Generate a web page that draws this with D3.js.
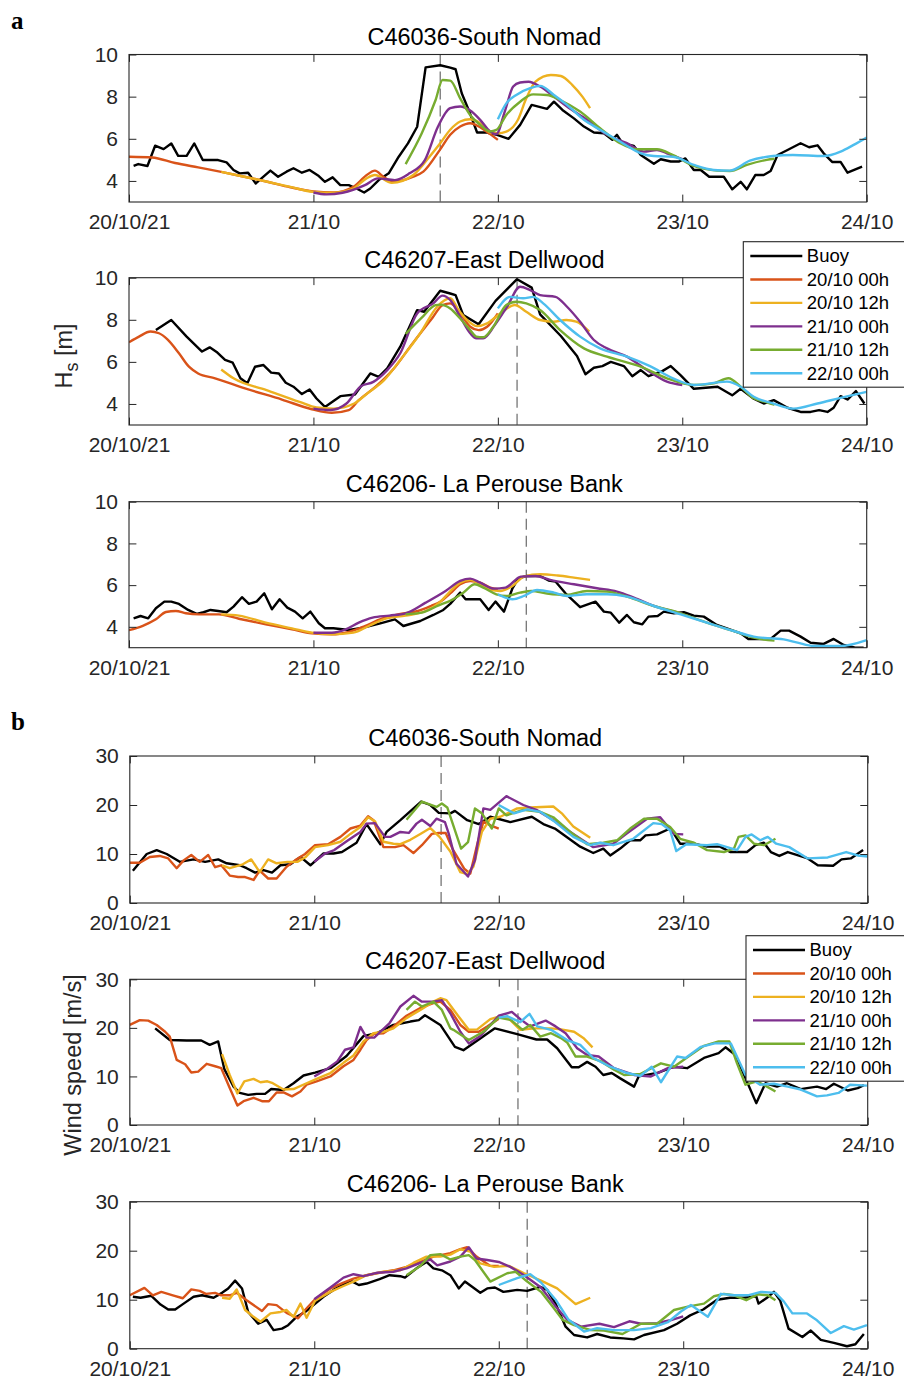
<!DOCTYPE html>
<html>
<head>
<meta charset="utf-8">
<script src="https://cdn.jsdelivr.net/npm/d3@7"></script>
<style>
  body { margin: 0; background: #fff; }
  svg { display: block; }
</style>
</head>
<body>
<svg id="fig" width="904" height="1381"></svg>
<script>
// ---- time axis (hours since 20/10/21 00:00 UTC) ----
const dayTicks = [0, 24, 48, 72, 96];
const dayLabels = ["20/10/21", "21/10", "22/10", "23/10", "24/10"];
const runNames = ["Buoy", "20/10 00h", "20/10 12h", "21/10 00h", "21/10 12h", "22/10 00h"];
const runColors = ["#000000", "#D95319", "#EDB120", "#7E2F8E", "#77AC30", "#4DBEEE"];
const stationNames = ["C46036-South Nomad", "C46207-East Dellwood", "C46206- La Perouse Bank"];
// time of the observed peak at each station (hours)
const peakHours = [40.5, 50.5, 51.7];
const hsTicks = [4, 6, 8, 10];
const wsTicks = [0, 10, 20, 30];

// ---- significant wave height [m], pairs of [hour, value] ----
const nomadHsBuoy = [[0.6,4.72],[1.2,4.8],[2.4,4.71],[3.4,5.67],[4.5,5.51],[5.5,5.78],[6.4,5.19],[7.5,5.19],[8.5,5.78],[9.6,4.99],[11.6,4.99],[12.7,4.88],[13.6,4.52],[14.4,4.36],[15.5,4.39],[16.5,3.88],[17.5,4.2],[18.4,4.49],[19.4,4.2],[20.5,4.44],[21.4,4.6],[22.5,4.39],[23.5,4.52],[24.7,4.23],[25.5,3.96],[26.5,4.17],[27.5,3.8],[28.6,3.8],[29.6,3.64],[30.6,3.45],[31.4,3.64],[32.5,4.04],[33.8,4.36],[35.1,5.15],[36.3,5.78],[37.5,6.57],[38.6,9.39],[40.5,9.49],[41.8,9.38],[42.5,9.3],[43.3,8.16],[44.2,7.37],[45.3,6.3],[46.6,6.3],[47.9,6.19],[49.4,6.0],[50.9,6.66],[52.4,7.61],[54.4,7.42],[55.3,7.76],[56.4,7.37],[57.9,6.97],[59.2,6.58],[60.5,6.3],[61.8,6.26],[62.9,5.95],[63.5,6.19],[64.2,5.79],[65.7,5.66],[66.6,5.23],[68.3,4.81],[69.2,5.03],[70.5,4.92],[71.6,4.92],[72.4,5.07],[73.5,4.52],[74.4,4.52],[75.5,4.2],[77.4,4.2],[78.5,3.6],[79.6,3.96],[80.4,3.6],[81.5,4.28],[82.6,4.28],[83.5,4.47],[84.4,5.23],[85.7,5.47],[87.4,5.79],[88.5,5.6],[89.6,5.69],[90.4,5.31],[91.5,4.9],[92.6,4.9],[93.5,4.39],[95.4,4.68]];
const nomadHs2000 = [[0,5.15],[3,5.11],[6,4.85],[9,4.64],[12,4.43],[15,4.2],[18,3.96],[21,3.7],[24,3.5],[26.6,3.45],[29.2,3.72],[30.9,4.27],[32,4.49],[33.1,4.2],[34.4,3.96],[37,4.2],[38.3,4.44],[40.5,5.5],[41.8,6.19],[43.1,6.58],[44.4,6.74],[45.7,6.55],[47,6.22],[48,5.95]];
const nomadHs2012 = [[12,4.43],[15,4.2],[18,3.96],[21,3.72],[24,3.48],[26.6,3.44],[29.2,3.64],[30.9,4.12],[32,4.28],[34.2,3.91],[37,4.28],[39.1,5.15],[40.5,5.79],[41.8,6.43],[43.1,6.82],[44.4,6.93],[45.7,6.74],[47,6.3],[48,6.26],[49.1,6.34],[50.6,6.89],[51.7,7.92],[52.9,8.71],[54.9,9.03],[56.2,8.98],[57.7,8.55],[59,8.0],[60,7.45]];
const nomadHs2100 = [[24,3.45],[25.7,3.36],[27.8,3.44],[30.7,3.8],[32.4,4.12],[34.6,4.04],[36.5,4.36],[38.5,4.99],[40.2,6.57],[41.8,7.45],[43.1,7.53],[44.4,7.34],[45.7,6.9],[47,6.35],[47.8,6.22],[48.9,7.29],[50,8.48],[50.9,8.67],[52,8.71],[53.5,8.48],[55.3,8.0],[57,7.53],[59.6,6.9],[62.2,6.19],[64.8,5.79],[67,5.39],[68.7,5.47],[70,5.31],[72,5.03]];
const nomadHs2112 = [[36,4.8],[38.1,6.26],[39.9,7.84],[40.8,8.79],[41.8,8.76],[43.1,7.92],[44.4,7.13],[45.7,6.66],[47,6.35],[47.8,6.42],[49.1,7.13],[50.9,7.76],[52.6,8.11],[54.4,8.08],[56.1,7.84],[58.7,7.29],[61.3,6.5],[63.9,5.79],[66.1,5.5],[68.7,5.5],[70.8,5.23],[73.5,4.71],[76.5,4.49],[78.2,4.47],[80.4,4.76],[83,5.0],[84,5.05]];
const nomadHs2200 = [[48,6.93],[49.1,7.68],[50.4,8.08],[52.2,8.4],[53.5,8.51],[55.3,8.08],[57,7.61],[59.2,6.9],[61.3,6.43],[63.9,5.87],[66.6,5.31],[68.3,5.18],[70.8,5.15],[73.5,4.76],[76.1,4.52],[78.2,4.49],[80.8,4.96],[83.8,5.18],[86.4,5.23],[90.4,5.18],[92.6,5.39],[94.3,5.71],[96,6.06]];

const dellwoodHsBuoy = [[3.5,7.51],[5.5,7.99],[7.5,7.2],[9.5,6.49],[10.5,6.69],[11.5,6.44],[12.5,6.09],[13.5,5.96],[14.5,5.22],[15.4,4.98],[16.4,5.77],[17.5,5.85],[18.5,5.49],[19.5,5.45],[20.4,5.01],[21.4,4.82],[22.5,4.47],[23.5,4.69],[24.4,4.26],[25.5,3.86],[27.5,4.37],[29.4,4.45],[31.4,5.45],[32.5,5.29],[33.6,5.69],[35.3,6.72],[37.5,8.46],[38.4,8.38],[40.5,9.38],[41.8,9.25],[42.5,9.17],[43.5,8.22],[45.5,7.79],[47.7,8.9],[50.5,9.93],[52.4,9.53],[53.5,8.26],[56.2,7.23],[58.3,6.28],[59.4,5.41],[60.5,5.72],[61.6,5.8],[62.7,6.0],[64.4,5.8],[65.5,5.32],[66.6,5.61],[67.6,5.32],[69.4,5.56],[70.5,5.8],[71.8,5.36],[73.5,4.72],[76.6,4.82],[78.5,4.41],[79.6,4.72],[81.3,4.25],[82.6,4.02],[83.9,4.18],[85.7,3.82],[87.4,3.62],[88.7,3.62],[89.8,3.71],[90.9,3.62],[91.7,3.82],[92.6,4.37],[93.5,4.21],[94.6,4.61],[95.7,4.02]];
const dellwoodHs2000 = [[0,6.93],[1.3,7.2],[2.8,7.44],[3.9,7.36],[5,7.07],[6.5,6.41],[7.8,5.77],[9,5.45],[11.2,5.22],[15.1,4.74],[19.9,4.21],[23.8,3.75],[26.4,3.58],[28.6,3.71],[29.9,4.18],[32.1,4.82],[34.3,5.61],[36.9,6.88],[39.5,8.1],[40.8,8.7],[41.8,8.78],[43.1,8.3],[44.4,7.67],[45.5,7.51],[46.6,7.67],[48,8.3]];
const dellwoodHs2012 = [[12,5.64],[13.6,5.22],[17.9,4.66],[22.2,4.1],[24.4,3.83],[26.6,3.78],[29.3,4.02],[31,4.5],[33.2,5.13],[35.3,6.09],[37.9,7.36],[40.1,8.62],[41.8,9.02],[42.9,8.46],[44,7.99],[45.3,7.7],[46.6,7.83],[48.3,8.3],[50.2,8.7],[51.7,8.38],[53.5,7.99],[55.2,7.91],[56.9,7.99],[58.2,7.91],[59.9,7.44]];
const dellwoodHs2100 = [[24,3.78],[26.2,3.71],[28.3,4.02],[30.1,4.82],[31.8,5.05],[33.6,5.61],[35.3,6.41],[37.5,8.3],[39.6,8.78],[40.8,9.15],[41.8,8.94],[43.1,8.14],[44.4,7.36],[45.2,7.12],[46.1,7.12],[47.6,7.75],[49.2,8.62],[50.9,9.57],[52.2,9.41],[53.5,9.17],[55.5,9.09],[57,8.62],[58.7,7.91],[60.5,7.04],[62.2,6.64],[64.8,6.25],[67.4,5.61],[70,5.06],[72,4.9]];
const dellwoodHs2112 = [[36,7.33],[38.1,8.1],[39.9,8.7],[40.5,8.72],[41.8,8.54],[43.1,8.06],[44.4,7.51],[45.2,7.2],[46.1,7.17],[47.4,7.67],[49.1,8.7],[50.4,8.86],[51.7,8.78],[53.5,8.46],[56.1,7.51],[59.2,6.64],[62.2,6.25],[66.6,5.77],[70,5.22],[73.5,4.9],[76.1,4.98],[78,5.22],[79.6,4.82],[81.3,4.27],[83.1,4.07],[84,3.96]];
const dellwoodHs2200 = [[48,8.54],[49.6,9.09],[51.3,9.02],[52.6,9.09],[53.9,8.78],[56.1,7.99],[58.7,7.2],[61.3,6.64],[64.8,6.25],[67.8,5.8],[70.8,5.22],[73.5,4.9],[77.8,5.06],[79.6,4.82],[81.3,4.34],[83.9,4.02],[86.5,3.78],[89.6,4.02],[92.6,4.29],[96,4.58]];

const perouseHsBuoy = [[0.6,4.41],[1.5,4.52],[2.5,4.41],[3.5,4.89],[4.6,5.21],[5.5,5.21],[6.5,5.1],[7.7,4.81],[8.8,4.62],[9.7,4.7],[10.6,4.81],[11.6,4.76],[12.7,4.7],[13.6,4.97],[14.7,5.42],[15.6,5.1],[16.6,5.21],[17.6,5.61],[18.6,4.84],[19.6,5.32],[20.6,4.92],[21.6,4.73],[22.6,4.41],[23.6,4.73],[24.7,4.17],[25.5,3.93],[26.6,3.93],[28.6,3.85],[30.5,3.96],[32.7,4.17],[34.6,4.36],[35.7,4.04],[37.9,4.28],[39.6,4.57],[40.9,4.81],[41.8,5.1],[43.1,5.64],[43.8,5.32],[45.7,5.32],[46.8,4.81],[47.7,5.21],[48.8,4.73],[49.9,5.85],[50.7,6.33],[51.8,6.44],[53.5,6.44],[54.6,6.22],[55.5,6.17],[56.8,5.61],[58.7,4.94],[60.7,5.21],[61.8,4.73],[62.7,4.68],[63.8,4.2],[64.8,4.57],[65.7,4.22],[66.8,4.12],[67.6,4.49],[68.8,4.52],[69.6,4.73],[70.9,4.65],[72.2,4.7],[73.5,4.54],[74.8,4.49],[76.5,4.09],[77.8,3.93],[79.6,3.69],[80.6,3.42],[83.5,3.42],[84.8,3.82],[85.9,3.82],[87.4,3.53],[88.7,3.24],[90.4,3.18],[91.7,3.42],[93,3.13],[94.5,3.0],[95.6,3.0]];
const perouseHs2000 = [[0,3.84],[1.8,4.05],[3.5,4.36],[4.8,4.71],[6.1,4.76],[7.4,4.65],[9.1,4.6],[11.7,4.6],[14.3,4.39],[17.8,4.12],[21.2,3.88],[23.8,3.69],[26.4,3.64],[28.6,3.76],[30.7,4.04],[32.9,4.39],[35,4.6],[37.6,4.76],[39.3,5.0],[40.5,5.2],[41.8,5.6],[43.1,6.04],[44.4,6.2],[45.7,6.12],[47,5.88],[48,5.8]];
const perouseHs2012 = [[12,4.6],[14.3,4.54],[17.8,4.2],[21.2,3.93],[23.8,3.72],[26.4,3.64],[29.2,3.72],[31.2,4.04],[33.4,4.39],[36,4.54],[38.6,4.76],[40.5,5.2],[41.8,5.7],[43.1,6.12],[44.4,6.25],[45.7,6.04],[47,5.77],[48.3,5.72],[49.9,5.96],[51.4,6.41],[53.5,6.52],[55.8,6.46],[57.9,6.36],[60,6.25]];
const perouseHs2100 = [[24,3.72],[26.4,3.72],[28.2,3.88],[29.9,4.2],[31.7,4.44],[33.9,4.54],[36,4.65],[38.6,5.16],[41.2,5.72],[43.1,6.2],[44.4,6.31],[45.7,6.12],[47.5,5.83],[49,5.88],[51,6.41],[52.9,6.44],[54.8,6.25],[57.9,6.04],[60.9,5.85],[63.5,5.69],[65.7,5.4],[68.3,5.0],[72,4.63]];
const perouseHs2112 = [[36,4.6],[38.1,4.68],[40.3,5.03],[41.8,5.25],[43.5,5.64],[45,6.04],[46.1,5.88],[47.8,5.56],[49.1,5.48],[50.9,5.64],[52.4,5.72],[54.4,5.6],[56.9,5.53],[59.6,5.72],[62.2,5.69],[64.8,5.45],[68.3,5.0],[71.8,4.65],[75.2,4.2],[78.7,3.8],[81.3,3.48],[84,3.34]];
const perouseHs2200 = [[48,5.56],[49.9,5.32],[51.4,5.48],[53.1,5.77],[55.3,5.64],[57,5.48],[59.6,5.56],[62.2,5.56],[64.8,5.45],[68.3,5.0],[71.8,4.6],[75.2,4.2],[78.7,3.8],[81.3,3.53],[83.9,3.44],[85.2,3.4],[87,3.24],[89.1,3.08],[92.6,3.08],[96,3.36]];

// ---- wind speed [m/s], pairs of [hour, value] ----
const nomadWsBuoy = [[0.4,6.6],[2.2,10.0],[3.5,10.8],[4.8,10.0],[6.5,8.4],[8.3,8.9],[9.8,8.4],[11.5,8.9],[12.6,8.1],[14.3,7.7],[15.2,7.1],[16.3,6.2],[17.4,6.7],[18.5,6.2],[19.6,7.7],[20.9,7.9],[22.2,9.4],[23.5,7.7],[25.2,10.1],[26.5,10.1],[27.6,10.4],[29.5,12.3],[30.8,16.1],[32.6,12.0],[33.4,14.5],[35.2,16.9],[37.9,20.7],[39.1,20.0],[40.2,18.4],[41.7,18.3],[42.3,18.8],[43.9,16.9],[45.4,16.1],[46.9,17.6],[49.5,16.5],[52.3,17.6],[53.8,16.1],[55.3,15.2],[58.6,11.5],[60.3,10.2],[61.6,11.1],[62.5,9.7],[63.8,11.1],[65.1,12.8],[66.4,12.8],[67.1,13.8],[68.6,14.0],[70.3,15.2],[70.8,14.1],[71.6,12.1],[73.4,12.1],[75.1,11.5],[76.8,11.5],[78.1,10.4],[80.3,10.4],[81.4,11.8],[82.5,12.3],[83.4,10.4],[84.5,9.6],[85.6,10.4],[88.2,9.1],[89.5,7.7],[91.5,7.6],[92.6,8.9],[93.8,9.1],[95.4,10.8]];
const nomadWs2000 = [[0,8.2],[1.3,8.2],[2.6,9.4],[3.9,9.6],[5,9.1],[6.1,7.1],[7,8.7],[8,9.8],[9.1,8.4],[10.2,9.8],[11.1,7.3],[11.9,7.7],[13,5.6],[14.1,5.3],[15,5.3],[16.1,4.7],[16.9,6.6],[18,5.0],[19.1,5.0],[20.4,7.4],[21.5,8.7],[22.8,10.0],[24.1,11.8],[25.8,12.0],[27.4,13.5],[28.7,15.2],[30,15.8],[31,17.7],[31.7,16.9],[33,11.4],[34.5,11.4],[35.6,11.8],[36.9,10.2],[38,11.8],[39.3,14.1],[40.2,14.3],[41.1,14.3],[42,11.0],[43.5,7.0],[44.3,6.0],[45.2,12.0],[46,16.6],[47,15.8],[48,15.2]];
const nomadWs2012 = [[12,7.7],[13,7.1],[14.7,7.9],[15.8,8.9],[16.9,6.3],[18,8.9],[19.1,8.1],[20.5,8.4],[21.8,8.4],[22.9,9.4],[24.1,11.4],[25.8,11.8],[27.4,12.5],[28.7,14.1],[30,15.5],[31,17.5],[31.9,16.7],[33,12.5],[34.3,12.1],[35.2,12.0],[36.5,12.9],[37.8,14.1],[39.1,15.3],[40.3,13.5],[41.7,10.5],[43,6.3],[43.9,5.9],[44.7,7.4],[45.8,14.5],[46.9,17.2],[48.2,17.6],[50.4,19.3],[52.1,19.5],[55.1,19.7],[56.2,18.3],[57.7,15.6],[59.9,13.3]];
const nomadWs2100 = [[24,8.4],[25.4,10.1],[26.6,10.8],[28.4,12.8],[30,14.5],[30.8,16.2],[31.9,16.3],[33.2,13.5],[33.9,13.5],[35.2,14.5],[36.3,14.3],[37.3,16.2],[38,17.0],[39.1,15.7],[39.9,17.2],[41,16.5],[41.5,14.1],[42.5,8.0],[44,5.4],[44.9,8.7],[46,19.3],[46.9,19.0],[49,21.8],[51.2,20.0],[52.9,19.0],[55.1,16.9],[57.7,14.1],[60.3,11.4],[62.9,12.1],[64.6,14.1],[67.3,17.2],[69,17.5],[70.8,14.1],[72,14.0]];
const nomadWs2112 = [[36,17.0],[38,20.7],[39.9,19.6],[40.6,20.3],[41.3,19.5],[43.1,11.1],[44,12.4],[44.9,19.3],[45.8,18.3],[47.1,15.2],[48,19.3],[49,17.9],[51.2,19.0],[53.4,18.6],[55.1,17.5],[57.3,14.5],[59.5,12.0],[61.6,12.3],[63.4,12.8],[65.1,15.2],[66.9,17.2],[68.6,17.2],[70.3,15.5],[71.6,13.1],[73.4,12.3],[75.1,10.8],[77.3,10.4],[78.6,11.1],[79.2,13.5],[80.1,13.8],[81.2,12.1],[82.5,11.8],[84,13.1]];
const nomadWs2200 = [[48,20.0],[50,18.3],[51.7,19.1],[53.4,18.6],[55.1,16.8],[57.7,13.5],[59.9,11.8],[61.2,12.3],[62.9,11.8],[65.5,13.1],[68.1,16.3],[69.2,16.1],[70.3,14.8],[71.1,10.6],[72.4,12.0],[75.1,11.8],[76.4,12.0],[79,10.8],[80.1,13.5],[80.9,14.0],[82,12.8],[83,13.5],[84.1,12.1],[85.8,11.4],[88.2,9.1],[90.8,9.3],[93.2,10.4],[94.7,9.7],[96,9.5]];

const dellwoodWsBuoy = [[3.3,19.9],[5.2,17.5],[7.4,17.4],[9.3,17.4],[10.4,16.5],[11.5,17.2],[12.3,11.5],[13.5,7.9],[14.3,6.6],[15.4,6.2],[16.5,6.4],[17.6,6.4],[18.4,7.4],[20,7.2],[21.3,8.6],[22.6,10.2],[24.1,10.8],[26.1,11.7],[28.2,14.2],[30.4,18.3],[32.1,18.9],[34.3,20.6],[36.5,21.3],[37.6,21.6],[38.4,22.6],[40.4,20.6],[42.3,16.1],[43.4,15.4],[47.5,19.9],[50.4,18.7],[52.9,17.6],[54.3,17.6],[55.6,15.8],[57.5,11.9],[58.4,11.9],[59.5,13.0],[60.6,12.0],[61.6,10.3],[62.7,10.7],[63.8,9.6],[65.6,7.9],[66.2,10.0],[68.6,10.7],[70.8,12.0],[72.5,11.7],[74.7,13.8],[76.6,14.8],[77.5,16.0],[78.8,14.4],[80.3,8.9],[81.5,4.5],[82.7,8.6],[84.2,7.9],[85.5,8.6],[87.3,7.4],[88.1,7.6],[89.4,7.9],[90.6,7.4],[91.6,8.5],[93.4,7.1],[94.7,7.6],[95.5,8.2]];
const dellwoodWs2000 = [[0,20.6],[1.3,21.6],[2.4,21.5],[3.5,20.6],[4.6,19.2],[5.2,18.2],[6.1,13.4],[7.2,12.5],[8,10.8],[8.9,11.0],[10,12.6],[11.1,12.1],[11.9,11.7],[13,7.6],[14,4.0],[14.8,4.9],[16.1,5.6],[17.2,4.9],[18.1,4.9],[19.1,6.7],[20,6.7],[21.1,5.9],[22.2,6.9],[23,8.3],[24.3,9.0],[26.1,10.0],[27.8,12.1],[29.1,13.4],[30,15.5],[30.8,17.5],[31.8,18.8],[33,18.9],[34.3,20.3],[36,22.5],[37.8,24.1],[39.5,25.1],[40.4,25.4],[41.7,23.7],[43,20.6],[44.1,19.2],[45.4,19.2],[46.5,20.3],[48,21.9]];
const dellwoodWs2012 = [[12,14.6],[13,10.3],[14,6.5],[14.9,9.0],[16.1,9.5],[17,8.8],[17.9,9.0],[18.6,8.6],[20,7.3],[21.3,7.4],[23,8.6],[24.3,9.5],[26.1,10.7],[27.8,12.8],[29.1,14.3],[30.4,17.2],[31.7,18.9],[33,19.2],[34.3,19.9],[36,22.0],[37.8,23.7],[39.5,25.4],[40.4,26.1],[41.2,25.7],[42.8,22.3],[44.1,19.6],[45.2,19.7],[46.9,21.8],[48,22.3],[49.1,22.2],[50.8,19.6],[52.6,19.9],[54.8,19.9],[56.1,19.7],[57.8,19.2],[59.1,17.8],[60.2,16.0]];
const dellwoodWs2100 = [[24,10.0],[25.6,11.5],[27,13.1],[28,15.5],[29.1,16.0],[30,20.2],[30.8,18.0],[31.8,18.0],[33.8,21.0],[35.2,24.4],[36.9,26.6],[38,25.4],[39.5,25.4],[40.6,25.7],[41.7,23.0],[43,19.2],[44.1,16.8],[45.6,18.3],[48,22.5],[49.7,23.3],[50.8,21.8],[52.1,20.3],[54.1,21.5],[55.4,20.3],[56.7,18.9],[58.2,15.8],[59.5,14.4],[61,14.1],[63,11.7],[65.6,10.3],[67.8,10.0],[70,11.7],[72,12.0]];
const dellwoodWs2112 = [[36,23.7],[37.1,25.4],[38,24.4],[39.5,25.4],[40.6,23.7],[41.7,19.9],[42.1,19.6],[44.1,17.5],[46,19.2],[48,22.1],[49.6,21.6],[51.1,19.6],[52.1,20.6],[53.4,18.2],[54.8,18.9],[56.1,17.9],[56.9,17.0],[58,14.1],[59.5,14.1],[61.3,13.1],[63,11.4],[64.3,10.3],[66.4,10.5],[69.1,12.7],[70.8,12.0],[72.5,13.9],[74.7,16.3],[76.6,17.2],[78,17.2],[79,12.7],[80.1,8.3],[81.6,9.0],[82.9,7.9],[84,6.9]];
const dellwoodWs2200 = [[48,22.1],[49.1,22.4],[50.8,21.2],[52,22.9],[53,20.3],[54.8,19.6],[56.9,17.5],[58.6,16.5],[60.3,13.8],[62.5,12.0],[64.7,10.7],[66.4,10.1],[67.9,12.0],[69.1,8.8],[71.2,14.1],[72.3,13.8],[74.3,16.1],[76.1,16.8],[78.2,16.8],[80.1,10.3],[82,8.3],[83.8,8.5],[85.6,7.9],[87.3,7.3],[89.4,5.9],[90.7,6.1],[92.2,6.6],[93.7,8.3],[95.9,8.1]];

const perouseWsBuoy = [[0.4,10.6],[1.4,10.4],[2.8,10.8],[4,9.0],[5,8.0],[5.9,8.0],[7,9.2],[8.3,10.6],[9.4,10.9],[10.9,10.4],[12,11.4],[12.8,12.3],[13.7,13.9],[14.6,12.3],[15.4,7.5],[16.7,5.1],[17.8,5.9],[18.7,3.8],[19.8,4.1],[20.6,4.8],[21.7,6.5],[22.8,7.5],[23.9,8.9],[25.2,10.6],[26.5,12.0],[28.7,13.9],[29.8,13.0],[30.8,13.3],[32.5,14.2],[33.8,15.0],[35.2,14.8],[35.8,14.5],[37.3,16.4],[38.6,17.7],[39.5,16.4],[40.6,16.0],[41.7,15.0],[42.8,12.3],[43.6,13.7],[45.6,11.4],[46.5,12.3],[47.5,12.5],[48.6,11.6],[50.4,12.0],[51.7,11.8],[53.4,12.6],[54.3,12.0],[55.4,9.2],[56.7,4.5],[57.8,2.8],[59.5,2.3],[60.8,3.0],[62.5,2.3],[64.2,2.1],[65.6,1.9],[66.9,2.8],[69.5,3.8],[71.2,5.1],[72.9,6.8],[74.6,8.0],[76.4,10.0],[78.1,10.4],[79.9,10.4],[81.5,10.7],[81.8,9.2],[82.9,10.4],[83.8,11.6],[84.6,9.9],[85.7,4.1],[87.5,2.4],[88.6,3.7],[89.9,1.8],[91.6,1.2],[93.3,0.5],[94.4,0.9],[95.5,3.0]];
const perouseWs2000 = [[0,10.9],[1.9,12.4],[3,10.9],[4.1,11.6],[5.6,10.9],[6.9,10.3],[8,12.1],[9.1,11.8],[9.9,11.2],[11.1,11.4],[11.9,10.9],[13,10.9],[13.9,11.4],[15.2,9.9],[17.2,7.7],[18,9.1],[19.1,8.9],[20.4,7.3],[21.9,6.2],[22.8,7.9],[24.1,10.1],[26.1,12.3],[27.8,13.5],[29.1,14.3],[30.8,15.0],[32.5,15.5],[34.3,16.0],[36,16.7],[37.8,17.7],[39.5,18.8],[41.7,19.5],[43,20.3],[43.9,20.7],[45.1,18.8],[46.9,16.9],[48,16.9]];
const perouseWs2012 = [[12,10.4],[13,10.2],[13.9,12.1],[15,7.9],[16.1,6.5],[17,5.5],[18.3,7.2],[19.6,7.5],[20.4,7.9],[21.3,6.5],[22.2,9.2],[23,6.3],[24.1,9.8],[26.1,11.6],[27.8,12.8],[29.1,13.7],[30.8,15.0],[33,15.7],[35.2,16.0],[36.9,17.5],[38.6,18.8],[40.4,18.8],[41.7,19.2],[43,20.3],[44.3,19.8],[45.6,17.4],[47.4,16.7],[49.3,16.9],[51.3,15.4],[53.5,13.9],[55.6,12.3],[58,9.1],[59.9,10.4]];
const perouseWs2100 = [[24,10.1],[26.1,12.5],[27.8,14.5],[29.1,15.2],[30.4,14.8],[32.2,15.5],[34.3,15.7],[36,16.4],[37.8,17.5],[39.1,18.2],[40,17.0],[41.7,17.8],[43,18.8],[44.1,20.7],[45.1,18.4],[46.5,18.1],[48,17.7],[49.5,16.7],[51.3,15.0],[53.5,12.5],[55.4,8.6],[56.9,5.9],[58.7,4.5],[61.1,5.1],[63,4.4],[65,5.6],[66.5,5.1],[68.6,5.2],[70.3,5.8],[72,6.6]];
const perouseWs2112 = [[36,15.0],[37.8,16.9],[39.1,19.1],[40.4,19.3],[41.7,18.2],[43,18.8],[44.1,19.1],[44.9,18.1],[46.9,13.7],[49.1,15.4],[50.2,15.7],[51.7,13.7],[53.5,11.6],[55.2,8.2],[56.3,5.9],[57.8,4.8],[60,3.8],[61.7,3.7],[64.1,3.0],[66.5,5.1],[68.6,5.1],[70.8,7.9],[72.6,8.6],[74.7,9.2],[76,10.7],[77.3,11.2],[78.6,10.9],[80.2,9.9],[81.7,11.1],[83,10.9],[84,9.9]];
const perouseWs2200 = [[48,13.0],[50.4,14.4],[52.1,15.2],[53.5,13.5],[55.4,10.0],[57.1,5.9],[59.1,3.5],[60.8,4.2],[63,3.8],[65.6,3.8],[67.8,4.2],[70,5.4],[71.7,7.6],[73,8.9],[75.2,6.5],[76.9,11.2],[78.6,10.9],[80.4,10.9],[82.1,11.6],[84,11.4],[85.1,9.6],[86.2,7.2],[88.1,7.2],[89.4,5.8],[91.2,3.2],[92.9,4.6],[94.2,3.9],[95.9,4.8]];

// ---- figure layout ----
const FONT = "'Liberation Sans', Arial, Helvetica, sans-serif";
const AXIS_COLOR = "#262626";
const TICK_LEN = 7.4;
const LINE_W = 2.4;

const hsSeries = [
  [nomadHsBuoy, nomadHs2000, nomadHs2012, nomadHs2100, nomadHs2112, nomadHs2200],
  [dellwoodHsBuoy, dellwoodHs2000, dellwoodHs2012, dellwoodHs2100, dellwoodHs2112, dellwoodHs2200],
  [perouseHsBuoy, perouseHs2000, perouseHs2012, perouseHs2100, perouseHs2112, perouseHs2200]
];
const wsSeries = [
  [nomadWsBuoy, nomadWs2000, nomadWs2012, nomadWs2100, nomadWs2112, nomadWs2200],
  [dellwoodWsBuoy, dellwoodWs2000, dellwoodWs2012, dellwoodWs2100, dellwoodWs2112, dellwoodWs2200],
  [perouseWsBuoy, perouseWs2000, perouseWs2012, perouseWs2100, perouseWs2112, perouseWs2200]
];

// axes rectangles [left, top, right, bottom]
const hsBoxes = [[129, 54.5, 866.7, 202], [129, 277.7, 866.7, 425], [129, 501.7, 866.7, 647.7]];
const wsBoxes = [[129.8, 756, 867.7, 903], [129.8, 979.3, 867.7, 1125], [129.8, 1201.7, 867.7, 1348.7]];

const panels = [];
stationNames.forEach((name, i) => panels.push({
  title: name, box: hsBoxes[i], yDomain: [3, 10], yTicks: hsTicks,
  series: hsSeries[i], peak: peakHours[i], smooth: true, legend: i === 1 ? [743.3, 241.7] : null
}));
stationNames.forEach((name, i) => panels.push({
  title: name, box: wsBoxes[i], yDomain: [0, 30], yTicks: wsTicks,
  series: wsSeries[i], peak: peakHours[i], smooth: false, legend: i === 1 ? [746, 935.7] : null
}));

const svg = d3.select("#fig");
svg.append("rect").attr("width", 904).attr("height", 1381).attr("fill", "#fff");

function styleAxis(g, withText) {
  g.attr("font-family", FONT).attr("font-size", 21);
  g.select(".domain").remove();
  g.selectAll(".tick line").attr("stroke", AXIS_COLOR).attr("stroke-width", 1);
  if (withText) g.selectAll(".tick text").attr("fill", AXIS_COLOR);
}

panels.forEach((p, pi) => {
  const [L, T, R, B] = p.box;
  const x = d3.scaleLinear().domain([0, 96]).range([L, R]);
  const y = d3.scaleLinear().domain(p.yDomain).range([B, T]);
  const g = svg.append("g");

  const clipId = "clip" + pi;
  g.append("clipPath").attr("id", clipId)
    .append("rect").attr("x", L).attr("y", T).attr("width", R - L).attr("height", B - T);

  // observed-peak marker
  g.append("line")
    .attr("x1", x(p.peak)).attr("x2", x(p.peak)).attr("y1", T).attr("y2", B)
    .attr("stroke", "#6a6a6a").attr("stroke-width", 1.2).attr("stroke-dasharray", "11,6");

  // buoy record and the five forecast runs
  const plot = g.append("g").attr("clip-path", `url(#${clipId})`);
  p.series.forEach((s, si) => {
    const gen = d3.line().x(d => x(d[0])).y(d => y(d[1]))
      .curve(p.smooth && si > 0 ? d3.curveMonotoneX : d3.curveLinear);
    plot.append("path").datum(s)
      .attr("d", gen).attr("fill", "none")
      .attr("stroke", runColors[si]).attr("stroke-width", LINE_W)
      .attr("stroke-linejoin", "round");
  });

  // axes: ticks on all four sides, pointing inward
  g.append("g").attr("transform", `translate(0,${B})`)
    .call(d3.axisBottom(x).tickValues(dayTicks).tickFormat((d, i) => dayLabels[i])
      .tickSizeInner(-TICK_LEN).tickSizeOuter(0).tickPadding(12))
    .call(a => styleAxis(a, true));
  g.append("g").attr("transform", `translate(0,${T})`)
    .call(d3.axisTop(x).tickValues(dayTicks).tickFormat(() => "")
      .tickSizeInner(-TICK_LEN).tickSizeOuter(0))
    .call(a => styleAxis(a, false));
  g.append("g").attr("transform", `translate(${L},0)`)
    .call(d3.axisLeft(y).tickValues(p.yTicks).tickFormat(d3.format("d"))
      .tickSizeInner(-TICK_LEN).tickSizeOuter(0).tickPadding(11))
    .call(a => styleAxis(a, true));
  g.append("g").attr("transform", `translate(${R},0)`)
    .call(d3.axisRight(y).tickValues(p.yTicks).tickFormat(() => "")
      .tickSizeInner(-TICK_LEN).tickSizeOuter(0))
    .call(a => styleAxis(a, false));

  g.append("rect").attr("x", L).attr("y", T).attr("width", R - L).attr("height", B - T)
    .attr("fill", "none").attr("stroke", AXIS_COLOR).attr("stroke-width", 1.1);

  g.append("text")
    .attr("x", (L + R) / 2 - 13.5).attr("y", T - 10)
    .attr("text-anchor", "middle").attr("font-family", FONT).attr("font-size", 23.5)
    .attr("fill", "#000").text(p.title);

  if (p.legend) {
    const [lx, ly] = p.legend;
    const lg = svg.append("g").attr("transform", `translate(${lx},${ly})`);
    lg.append("rect").attr("x", 0).attr("y", 0).attr("width", 162).attr("height", 145.5)
      .attr("fill", "#fff").attr("stroke", AXIS_COLOR).attr("stroke-width", 1.1);
    runNames.forEach((n, k) => {
      const cy = 14.3 + k * 23.45;
      lg.append("line").attr("x1", 7).attr("x2", 59).attr("y1", cy).attr("y2", cy)
        .attr("stroke", runColors[k]).attr("stroke-width", LINE_W);
      lg.append("text").attr("x", 63.5).attr("y", cy).attr("dy", "0.35em")
        .attr("font-family", FONT).attr("font-size", 18.5).attr("fill", "#000").text(n);
    });
  }
});

// y-axis labels
const hsLabel = svg.append("text")
  .attr("transform", "translate(72,356) rotate(-90)")
  .attr("text-anchor", "middle").attr("font-family", FONT).attr("font-size", 23.5).attr("fill", AXIS_COLOR);
hsLabel.append("tspan").text("H");
hsLabel.append("tspan").attr("font-size", 18).attr("dy", 6).text("s");
hsLabel.append("tspan").attr("dy", -6).text(" [m]");

svg.append("text")
  .attr("transform", "translate(81,1065) rotate(-90)")
  .attr("text-anchor", "middle").attr("font-family", FONT).attr("font-size", 23.5)
  .attr("fill", AXIS_COLOR).text("Wind speed [m/s]");

// panel letters
[["a", 29], ["b", 730]].forEach(([t, yy]) => {
  svg.append("text").attr("x", 11).attr("y", yy)
    .attr("font-family", "'Liberation Serif', 'DejaVu Serif', serif")
    .attr("font-weight", "bold").attr("font-size", 25).attr("fill", "#000").text(t);
});
</script>
